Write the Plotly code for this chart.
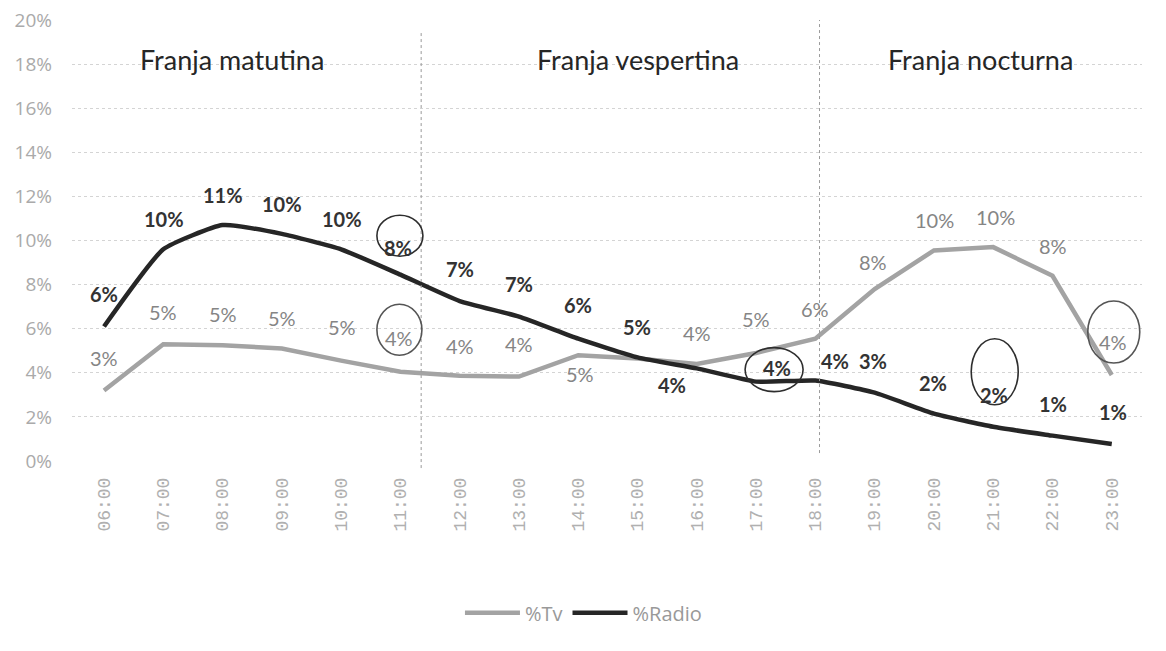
import plotly.graph_objects as go

# ---------------- data ----------------
hours = ["06:00", "07:00", "08:00", "09:00", "10:00", "11:00", "12:00", "13:00", "14:00",
         "15:00", "16:00", "17:00", "18:00", "19:00", "20:00", "21:00", "22:00", "23:00"]
tv = [3.2, 5.3, 5.25, 5.1, 4.55, 4.05, 3.87, 3.83, 4.8,
      4.65, 4.4, 4.9, 5.55, 7.8, 9.55, 9.7, 8.4, 3.9]
radio = [6.1, 9.6, 10.7, 10.3, 9.6, 8.45, 7.25, 6.55, 5.55,
         4.7, 4.2, 3.6, 3.65, 3.1, 2.15, 1.55, 1.15, 0.77]
series_names = ["%Tv", "%Radio"]
franjas = ["Franja matutina", "Franja vespertina", "Franja nocturna"]
franja_bounds = [5.35, 12.07]          # separators, in category-index units
y_ticks = [0, 2, 4, 6, 8, 10, 12, 14, 16, 18, 20]
y_tick_labels = [f"{v}%" for v in y_ticks]

# label offsets (pixels, dx right, dy up) relative to each point
tv_lab_dx = [0, 0, 0, 0, 1, -1, 0, 0, 2, 0, 0, 0, 0, -2, 1, 2, 1, 1]
tv_lab_dy = [32, 32, 31, 31, 34, 34, 30, 33, -19, 0, 31, 34, 30, 27, 30, 30, 30, 33]
tv_lab_show = [True] * 9 + [False] + [True] * 8
radio_lab_dx = [0, 1, 0, 0, 1, -2, 0, 0, 0, -1, -25, 21, 20, -2, -1, 1, 1, 1]
radio_lab_dy = [33, 30, 30, 30, 30, 27, 32, 33, 34, 30, -17, 14, 20, 32, 31, 32, 32, 32]

# circled labels: (series, hour, dx, dy, rx, ry)
circles = [("radio", "11:00", -0.5, 39, 23, 20.5),
           ("tv", "11:00", -1, 42, 22.5, 25.5),
           ("radio", "17:00", 18, 12, 29, 22),
           ("radio", "21:00", 1.5, 55, 23.5, 33),
           ("tv", "23:00", 2, 43, 26, 31)]

TV_COLOR = "#a3a3a3"
RADIO_COLOR = "#262626"

fig = go.Figure()
fig.add_trace(go.Scatter(x=hours, y=tv, name=series_names[0], mode="lines",
                         line=dict(color=TV_COLOR, width=4.5)))
fig.add_trace(go.Scatter(x=hours, y=radio, name=series_names[1], mode="lines",
                         line=dict(color=RADIO_COLOR, width=4.5, shape="spline", smoothing=0.45)))

annotations = []
for i, h in enumerate(hours):
    if tv_lab_show[i]:
        annotations.append(dict(x=h, y=tv[i], xref="x", yref="y", text=f"{tv[i]:.0f}%",
                                showarrow=False, xshift=tv_lab_dx[i], yshift=tv_lab_dy[i],
                                font=dict(family="Lato, sans-serif", size=20, color="#858585")))
    annotations.append(dict(x=h, y=radio[i], xref="x", yref="y", text=f"<b>{radio[i]:.0f}%</b>",
                            showarrow=False, xshift=radio_lab_dx[i], yshift=radio_lab_dy[i],
                            font=dict(family="Lato, sans-serif", size=20, color="#333333")))

# franja titles centered in each section
edges = [-0.54] + franja_bounds + [17.51]
title_shift = [-0.25, 0.3, 0.0]
for k, name in enumerate(franjas):
    left, right = edges[k], edges[k + 1]
    annotations.append(dict(x=(left + right) / 2 + title_shift[k],
                            y=18.2, xref="x", yref="y", text=name, showarrow=False,
                            font=dict(family="Lato, sans-serif", size=27, color="#262626")))

shapes = []
# section separators
shapes.append(dict(type="line", xref="x", yref="paper", x0=franja_bounds[0], x1=franja_bounds[0],
                   y0=-0.016, y1=0.975, line=dict(color="#9a9a9a", width=1, dash="dot")))
shapes.append(dict(type="line", xref="x", yref="paper", x0=franja_bounds[1], x1=franja_bounds[1],
                   y0=0.018, y1=1.0, line=dict(color="#9a9a9a", width=1, dash="dot")))
for ser, h, dx, dy, rx, ry in circles:
    val = (radio if ser == "radio" else tv)[hours.index(h)]
    shapes.append(dict(type="circle", xref="x", yref="y", xsizemode="pixel", ysizemode="pixel",
                       xanchor=h, yanchor=val, x0=dx - rx, x1=dx + rx, y0=dy - ry, y1=dy + ry,
                       line=dict(color="#2e2e2e" if ser == "radio" else "#555555", width=1.6)))

fig.update_layout(
    width=1166, height=651,
    margin=dict(l=64, r=32, t=12, b=198, autoexpand=False),
    paper_bgcolor="white", plot_bgcolor="white",
    showlegend=True,
    legend=dict(orientation="h", x=0.478, y=-0.344, xanchor="center", yanchor="middle",
                font=dict(family="Open Sans, sans-serif", size=20, color="#999999"),
                itemwidth=55),
    annotations=annotations,
    shapes=shapes,
    xaxis=dict(type="category", range=[-0.54, 17.51], showgrid=False, showline=False,
               zeroline=False, tickangle=-90, ticks="", ticklabelstandoff=12, automargin=False,
               ticklabeloverflow="allow",
               tickfont=dict(family="Liberation Mono, monospace", size=18, color="#b0b0b0")),
    yaxis=dict(range=[0, 20], tickvals=y_ticks, ticktext=y_tick_labels, showgrid=True,
               gridcolor="#d4d4d4", griddash="dot", gridwidth=1, zeroline=False,
               showline=False, ticks="", ticklabelstandoff=19, automargin=False,
               ticklabeloverflow="allow",
               tickfont=dict(family="Open Sans, sans-serif", size=19, color="#aaaaaa")),
)

fig.write_html("out.html")
